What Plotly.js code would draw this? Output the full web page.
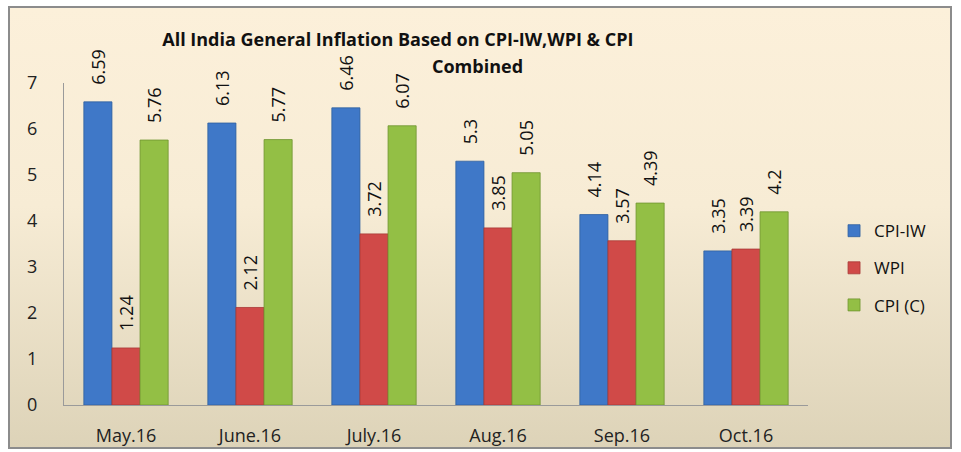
<!DOCTYPE html>
<html>
<head>
<meta charset="utf-8">
<script src="https://cdn.plot.ly/plotly-3.0.1.min.js"></script>
<style>
  html, body { margin: 0; padding: 0; background: #ffffff; }
  #wrap { position: relative; width: 961px; height: 452px; }
  #frame { position: absolute; left: 8px; top: 6px; width: 944px; height: 443px;
           border: 2px solid #8c8c8c; box-sizing: border-box;
           background: linear-gradient(to bottom, #fcf0da 0%, #f7ecd5 45%, #ddd3b8 100%); }
  #chart { position: absolute; left: 0; top: 0; width: 961px; height: 452px; }
</style>
</head>
<body>
<div id="wrap"><div id="frame"></div><div id="chart"></div></div>
<script>
const categories = ["May.16", "June.16", "July.16", "Aug.16", "Sep.16", "Oct.16"];
const cpiIW = [6.59, 6.13, 6.46, 5.3, 4.14, 3.35];
const wpi   = [1.24, 2.12, 3.72, 3.85, 3.57, 3.39];
const cpiC  = [5.76, 5.77, 6.07, 5.05, 4.39, 4.2];
const seriesNames = ["CPI-IW", "WPI", "CPI (C)"];
const seriesColors = ["#3f78c8", "#d04a48", "#93bf45"];
const seriesLines = ["#2f5f9e", "#a83836", "#6f9430"];
const allSeries = [cpiIW, wpi, cpiC];
const titleLine1 = "All India General Inflation Based on CPI-IW,WPI & CPI";
const titleLine2 = "Combined";

const FONT = "'Open Sans', 'Noto Sans', sans-serif";

const traces = allSeries.map((vals, i) => ({
  type: "bar",
  name: seriesNames[i],
  x: categories,
  y: vals,
  text: vals.map(v => "\u00a0\u00a0\u00a0" + String(v)),
  textposition: "outside",
  textangle: -90,
  constraintext: "none",
  cliponaxis: false,
  textfont: { family: FONT, size: 18, color: "#111111" },
  marker: { color: seriesColors[i], line: { color: seriesLines[i], width: 0.8 } },
  legendgroup: "g" + i,
  hoverinfo: "skip"
}));

const layout = {
  width: 961, height: 452,
  paper_bgcolor: "rgba(0,0,0,0)",
  plot_bgcolor: "rgba(0,0,0,0)",
  margin: { l: 64, r: 153, t: 83, b: 47 },
  barmode: "group",
  bargap: 0.32,
  bargroupgap: 0,
  showlegend: true,
  title: {
    text: "<b>" + titleLine1 + "</b>",
    font: { family: FONT, size: 18, color: "#111111" },
    x: 0.414, xanchor: "center",
    y: 0.9115, yanchor: "middle"
  },
  annotations: [{
    text: "<b>" + titleLine2 + "</b>",
    xref: "paper", yref: "paper",
    x: 0.556, y: 1.053, xanchor: "center", yanchor: "middle",
    showarrow: false,
    font: { family: FONT, size: 18, color: "#111111" }
  }],
  xaxis: {
    type: "category",
    showline: true, linecolor: "#9a9a9a", linewidth: 1,
    ticks: "", showgrid: false, zeroline: false,
    tickfont: { family: FONT, size: 18, color: "#222222" },
    ticklabelstandoff: 14
  },
  yaxis: {
    range: [0, 7], dtick: 1, tick0: 0,
    showline: true, linecolor: "#9a9a9a", linewidth: 1,
    ticks: "", showgrid: false, zeroline: false,
    tickfont: { family: FONT, size: 18, color: "#222222" },
    ticklabelstandoff: 22
  },
  legend: {
    x: 1.035, xanchor: "left",
    y: 0.425, yanchor: "middle",
    bgcolor: "rgba(0,0,0,0)",
    tracegroupgap: 12,
    font: { family: FONT, size: 17, color: "#111111" }
  }
};

Plotly.newPlot("chart", traces, layout, { displayModeBar: false, staticPlot: true });
</script>
</body>
</html>
